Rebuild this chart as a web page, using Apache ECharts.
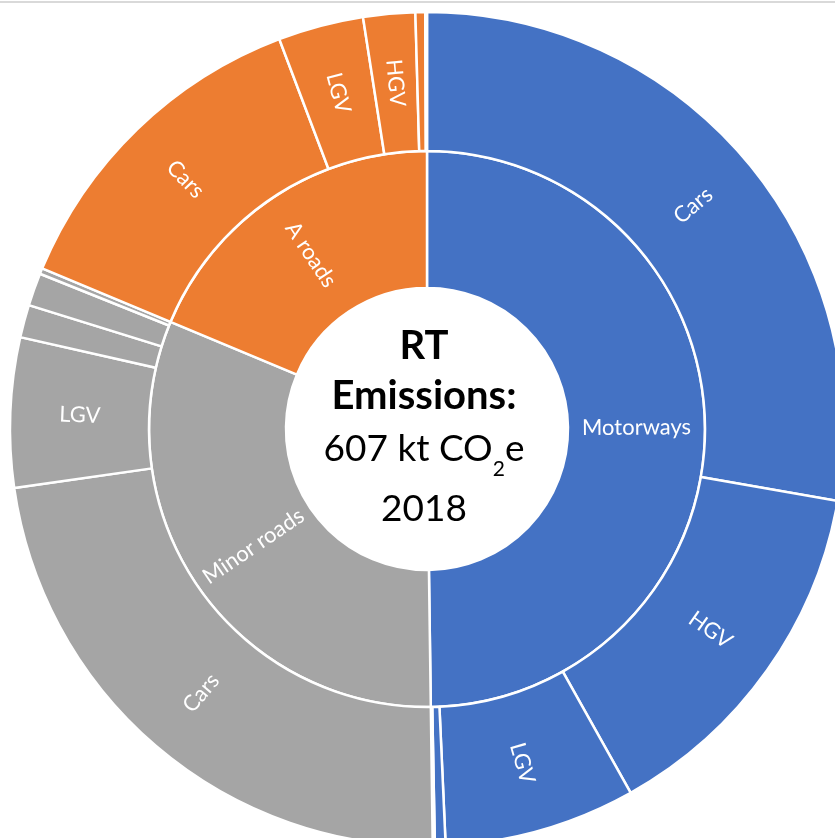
<!DOCTYPE html>
<html><head><meta charset="utf-8">
<script src="https://cdn.jsdelivr.net/npm/echarts@6/dist/echarts.min.js"></script>
<style>html,body{margin:0;padding:0;background:#fff}#c{width:835px;height:838px}</style>
</head><body><div id="c"></div>
<script>
// Road transport emissions 2018 (kt CO2e)
const groups = ['Motorways', 'Minor roads', 'A roads'];
const groupColors = ['#4472C4', '#A5A5A5', '#ED7D31'];
const motorwayNames = ['Cars', 'HGV', 'LGV', 'Buses', 'Motorcycles'];
const motorwayValues = [168.6, 85.7, 45.0, 2.5, 0.5];
const minorNames = ['Cars', 'LGV', 'HGV', 'Buses', 'Motorcycles'];
const minorValues = [139.4, 35.2, 7.7, 7.7, 1.35];
const aroadNames = ['Cars', 'LGV', 'HGV', 'Buses', 'Motorcycles'];
const aroadValues = [78.6, 20.1, 12.2, 2.3, 0.4];
const titleLine1 = 'RT';
const titleLine2 = 'Emissions:';
const totalMain = '607 kt CO';
const totalSub = '2';
const totalTail = 'e';
const yearLine = '2018';

const childNames = [motorwayNames, minorNames, aroadNames];
const childValues = [motorwayValues, minorValues, aroadValues];

const data = groups.map((g, i) => ({
  name: g,
  itemStyle: { color: groupColors[i] },
  children: childNames[i].map((n, j) => ({
    name: n, value: childValues[i][j], itemStyle: { color: groupColors[i] }
  }))
}));

// measure widths for the CO2e line with subscript
const mctx = document.createElement('canvas').getContext('2d');
const mainFont = '37px Lato';
const subFont = '21px Lato';
mctx.font = mainFont; const w1 = mctx.measureText(totalMain).width; const w3 = mctx.measureText(totalTail).width;
mctx.font = subFont; const w2 = mctx.measureText(totalSub).width;
const cx = 424;
const startX = cx - (w1 + w2 + w3) / 2;

const boldStyle = { fontFamily: 'Lato', fontWeight: 'bold', fontSize: 40, fill: '#000', textAlign: 'center', textVerticalAlign: 'middle' };
const regStyle = { fontFamily: 'Lato', fontSize: 37, fill: '#000', textVerticalAlign: 'middle' };

const chart = echarts.init(document.getElementById('c'), null, { renderer: 'canvas' });
chart.setOption({
  backgroundColor: '#ffffff',
  animation: false,
  graphic: [
    { type: 'rect', shape: { x: 0, y: 1, width: 835, height: 2 }, style: { fill: '#d9d9d9' }, silent: true },
    { type: 'text', x: cx, y: 346, z: 100, silent: true, style: Object.assign({ text: titleLine1 }, boldStyle) },
    { type: 'text', x: cx, y: 396, z: 100, silent: true, style: Object.assign({ text: titleLine2 }, boldStyle) },
    { type: 'text', x: startX, y: 449, z: 100, silent: true, style: Object.assign({ text: totalMain, textAlign: 'left' }, regStyle) },
    { type: 'text', x: startX + w1, y: 469, z: 100, silent: true, style: { text: totalSub, fontFamily: 'Lato', fontSize: 21, fill: '#000', textAlign: 'left', textVerticalAlign: 'middle' } },
    { type: 'text', x: startX + w1 + w2, y: 449, z: 100, silent: true, style: Object.assign({ text: totalTail, textAlign: 'left' }, regStyle) },
    { type: 'text', x: cx, y: 509, z: 100, silent: true, style: Object.assign({ text: yearLine, textAlign: 'center' }, regStyle) }
  ],
  series: [{
    type: 'sunburst',
    center: [427, 429],
    radius: [141, 417],
    sort: null,
    startAngle: 90,
    clockwise: true,
    nodeClick: false,
    emphasis: { disabled: true },
    itemStyle: { borderColor: '#ffffff', borderWidth: 2.5 },
    label: { rotate: 'radial', color: '#ffffff', fontFamily: 'Lato', fontSize: 22, minAngle: 6 },
    levels: [
      {},
      { r0: 141, r: 278 },
      { r0: 278, r: 417 }
    ],
    data: data
  }]
});
</script>
</body></html>
